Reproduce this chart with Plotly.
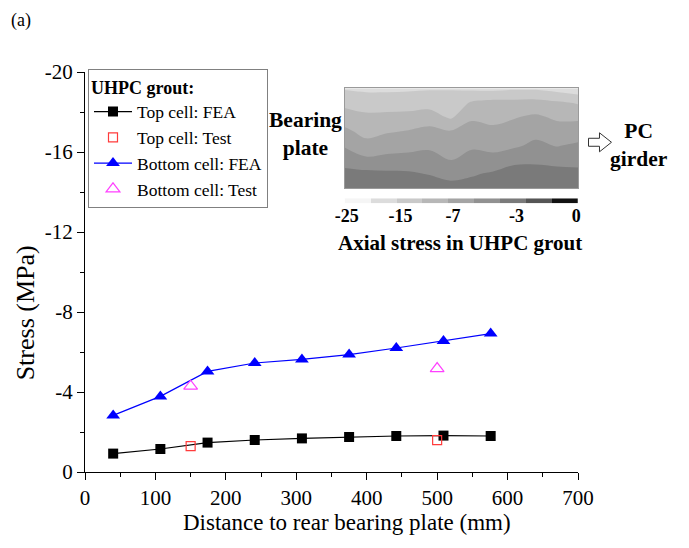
import numpy as np
import plotly.graph_objects as go

# ---- stress along the grout, measured from the rear bearing plate ----
dist_fea = [40, 107, 174, 241, 308, 375, 442, 509, 576]
top_fea = [-0.92, -1.15, -1.47, -1.60, -1.68, -1.75, -1.80, -1.82, -1.80]
bottom_fea = [-2.83, -3.78, -5.03, -5.45, -5.63, -5.87, -6.20, -6.55, -6.92]
dist_test = [150, 500]
top_test = [-1.29, -1.59]
bottom_test = [-4.29, -5.17]

x_ticks = [0, 100, 200, 300, 400, 500, 600, 700]
y_ticks = [0, -4, -8, -12, -16, -20]
y_tick_text = ["0", "-4", "-8", "-12", "-16", "-20"]

# ---- axial stress field in the grout (MPa), rows top -> bottom ----
grout_stress = [
    [-15.5, -16.0, -16.0, -15.8, -15.5, -15.3, -16.0, -16.3, -15.8, -15.8, -17.0, -18.5],
    [-12.9, -13.4, -13.4, -13.4, -13.2, -13.8, -11.7, -11.1, -11.1, -11.0, -11.6, -12.3],
    [-10.5, -11.4, -11.3, -11.1, -10.7, -12.5, -9.5, -9.8, -9.2, -8.7, -9.5, -9.6],
    [-8.6, -9.9, -9.3, -8.9, -8.4, -8.9, -8.2, -8.6, -8.2, -7.6, -8.2, -8.0],
    [-7.2, -8.4, -7.9, -7.7, -7.4, -8.0, -7.3, -7.6, -7.3, -6.6, -7.1, -6.7],
    [-5.8, -6.6, -6.4, -6.3, -6.2, -7.1, -6.3, -6.4, -5.7, -5.4, -5.7, -5.7],
    [-4.4, -4.4, -4.6, -4.7, -5.1, -5.7, -5.2, -4.7, -3.8, -4.2, -4.2, -4.4],
    [-3.2, -3.2, -3.4, -3.5, -3.8, -4.2, -4.2, -3.4, -3.2, -3.2, -3.2, -3.2],
]
# contour band edges (MPa) and their grey shades
band_edges = [-25, -20, -15, -12, -9, -7, -5, -3, -1.5, 0]
band_colors = ["#f5f5f5", "#dcdcdc", "#c9c9c9", "#b7b7b7", "#a4a4a4",
               "#919191", "#7a7a7a", "#555555", "#111111"]
bar_labels = ["-25", "-15", "-7", "-3", "0"]

SERIF = "Liberation Serif"

# plot-area geometry in pixels (used to place the inset annotations)
W, H = 689, 548
ML, MR, MT, MB = 85, 110.5, 71.7, 76.3
PW, PH = W - ML - MR, H - MT - MB


def px(x, y):
    return (x - ML) / PW, 1 - (y - MT) / PH


fig = go.Figure()

fig.add_trace(go.Scatter(
    x=dist_fea, y=top_fea, mode="lines+markers", name="Top cell: FEA",
    line=dict(color="black", width=1.2),
    marker=dict(symbol="square", size=10, color="black")))
fig.add_trace(go.Scatter(
    x=dist_test, y=top_test, mode="markers", name="Top cell: Test",
    marker=dict(symbol="square-open", size=9, color="#ff3b3b",
                line=dict(width=1.2))))
fig.add_trace(go.Scatter(
    x=dist_fea, y=bottom_fea, mode="lines+markers", name="Bottom cell: FEA",
    line=dict(color="#0000ff", width=1.2),
    marker=dict(symbol="triangle-up", size=12, color="#0000ff")))
fig.add_trace(go.Scatter(
    x=dist_test, y=bottom_test, mode="markers", name="Bottom cell: Test",
    marker=dict(symbol="triangle-up-open", size=12, color="#ff40ff",
                line=dict(width=1.2))))

# discrete grey scale over band index 0..9
n_band = len(band_colors)
cscale = []
for i, c in enumerate(band_colors):
    cscale.append([i / n_band, c])
    cscale.append([(i + 1) / n_band, c])

stress = np.array(grout_stress, dtype=float)
band_level = np.interp(stress, band_edges, np.arange(len(band_edges)))
n_rows, n_cols = stress.shape

fig.add_trace(go.Contour(
    z=band_level, x=np.arange(n_cols), y=np.arange(n_rows),
    xaxis="x2", yaxis="y2", colorscale=cscale, zmin=0, zmax=n_band,
    autocontour=False, contours=dict(start=1, end=n_band - 1, size=1,
                                     coloring="fill", showlines=False),
    line=dict(width=0), showscale=False, showlegend=False, hoverinfo="skip"))

fig.add_trace(go.Heatmap(
    z=[[i + 0.5 for i in range(n_band)]], x=[i + 0.5 for i in range(n_band)],
    y=[0], xaxis="x3", yaxis="y3", colorscale=cscale, zmin=0, zmax=n_band,
    showscale=False, showlegend=False, hoverinfo="skip"))

inset_x = [px(345, 0)[0], 1.0]
inset_y = [px(0, 188)[1], px(0, 88)[1]]
bar_y = [px(0, 203)[1], px(0, 198)[1]]

axis_common = dict(showgrid=False, zeroline=False, showline=True,
                   linecolor="black", linewidth=1, ticks="outside",
                   tickcolor="black", tickwidth=1, ticklen=7,
                   tickfont=dict(family=SERIF, size=21, color="black"))

shapes = []
# outline arrow pointing to the girder
arrow_px = [(589, 138), (600, 138), (600, 132.5), (612, 142), (600, 151.5),
            (600, 146), (589, 146)]
path = "M " + " L ".join("{:.4f},{:.4f}".format(*px(a, b)) for a, b in arrow_px) + " Z"
shapes.append(dict(type="path", path=path, xref="paper", yref="paper",
                   line=dict(color="#333333", width=1), fillcolor="white"))

bold = dict(family=SERIF, size=21.5, color="black", weight="bold")
annotations = [
    dict(text="(a)", x=px(21, 0)[0], y=px(0, 20)[1],
         font=dict(family=SERIF, size=18, color="black")),
    dict(text="Stress (MPa)", x=px(25, 0)[0], y=px(0, 313)[1], textangle=-90,
         font=dict(family=SERIF, size=26, color="black")),
    dict(text="Distance to rear bearing plate (mm)", x=px(347, 0)[0],
         y=px(0, 522)[1], font=dict(family=SERIF, size=23, color="black")),
    dict(text="Bearing<br>plate", x=px(306, 0)[0], y=px(0, 134)[1],
         font=bold, align="center"),
    dict(text="PC<br>girder", x=px(640, 0)[0], y=px(0, 145)[1],
         font=bold, align="center"),
    dict(text="Axial stress in UHPC grout", x=px(460, 0)[0], y=px(0, 243)[1],
         font=dict(family=SERIF, size=21, color="black", weight="bold")),
]
for a in annotations:
    a.update(xref="paper", yref="paper", showarrow=False,
             xanchor="center", yanchor="middle")

fig.update_layout(
    width=W, height=H, margin=dict(l=ML, r=MR, t=MT, b=MB),
    paper_bgcolor="white", plot_bgcolor="white",
    font=dict(family=SERIF, color="black"),
    showlegend=True,
    legend=dict(
        x=px(88, 0)[0], y=px(0, 69)[1], xanchor="left", yanchor="top",
        bgcolor="white", bordercolor="#808080", borderwidth=1,
        font=dict(family=SERIF, size=17.5, color="black"),
        title=dict(text="<b>UHPC grout:</b>",
                   font=dict(family=SERIF, size=18, color="black")),
        itemwidth=38, tracegroupgap=0),
    xaxis=dict(range=[0, 700], tickvals=x_ticks,
               minor=dict(dtick=50, ticks="outside", ticklen=4,
                          tickcolor="black"),
               **axis_common),
    yaxis=dict(range=[0, -20], tickvals=y_ticks, ticktext=y_tick_text,
               minor=dict(dtick=2, ticks="outside", ticklen=4,
                          tickcolor="black"),
               **axis_common),
    xaxis2=dict(domain=inset_x, anchor="y2", range=[0, n_cols - 1],
                showgrid=False, zeroline=False, showticklabels=False,
                showline=True, mirror=True, linecolor="#9a9a9a", linewidth=1),
    yaxis2=dict(domain=inset_y, anchor="x2", range=[n_rows - 1, 0],
                showgrid=False, zeroline=False, showticklabels=False,
                showline=True, mirror=True, linecolor="#9a9a9a", linewidth=1),
    xaxis3=dict(domain=inset_x, anchor="y3", range=[0, n_band],
                showgrid=False, zeroline=False, showline=False, ticks="",
                tickvals=[0.08, 2.15, 4.18, 6.63, 8.93], ticktext=bar_labels,
                tickfont=dict(family=SERIF, size=18, color="black",
                              weight="bold")),
    yaxis3=dict(domain=bar_y, anchor="x3", range=[-0.5, 0.5],
                showgrid=False, zeroline=False, showticklabels=False,
                showline=False),
    shapes=shapes,
    annotations=annotations,
)

fig.write_html("out.html")
